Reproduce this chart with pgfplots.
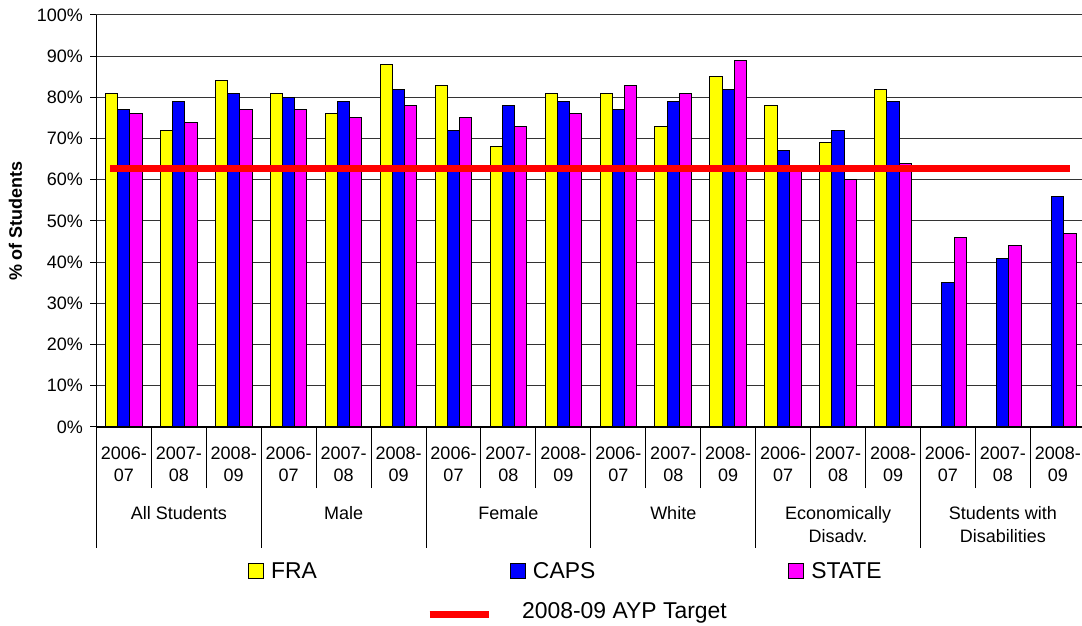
\documentclass[border=0pt]{standalone}
\usepackage{pgfplots}
\pgfplotsset{compat=1.18}
\usepackage{fontspec}
\setmainfont{Liberation Sans}
\definecolor{fra}{RGB}{255,255,0}
\definecolor{caps}{RGB}{0,0,255}
\definecolor{stat}{RGB}{255,0,255}
\begin{document}
\begin{tikzpicture}[x=1pt,y=1pt]
\path[use as bounding box] (0,0) rectangle (1082,626);
\begin{axis}[
  at={(96.4pt,199pt)}, anchor=south west,
  scale only axis, width=985.6pt, height=412pt,
  xmin=-0.5, xmax=17.44, ymin=0, ymax=100,
  clip=false,
  axis lines*=left,
  axis line style={black, line width=1.1pt},
  tick align=outside,
  major tick length=6pt,
  minor tick length=61pt,
  tick style={black, line width=1pt},
  ytick={0,10,20,30,40,50,60,70,80,90,100},
  yticklabels={0\%,10\%,20\%,30\%,40\%,50\%,60\%,70\%,80\%,90\%,100\%},
  yticklabel style={font=\fontsize{18}{22}\selectfont, xshift=-4pt},
  ymajorgrids, grid style={black!80, line width=1pt},
  xtick={0,...,17},
  minor xtick={0.5,1.5,...,16.5},
  major x tick style={/pgfplots/major tick length=0pt},
  xticklabels={
    {2006-\\07},{2007-\\08\\[15.7pt]All Students},{2008-\\09},
    {2006-\\07},{2007-\\08\\[15.7pt]Male},{2008-\\09},
    {2006-\\07},{2007-\\08\\[15.7pt]Female},{2008-\\09},
    {2006-\\07},{2007-\\08\\[15.7pt]White},{2008-\\09},
    {2006-\\07},{2007-\\08\\[15.7pt]Economically\\Disadv.},{2008-\\09},
    {2006-\\07},{2007-\\08\\[15.7pt]Students with\\Disabilities},{2008-\\09}},
  xticklabel style={align=center, anchor=north, inner sep=0pt, yshift=-13.8pt, font=\fontsize{18}{22.3}\selectfont},
  ylabel={\% of Students},
  ylabel style={at={(axis description cs:-0.0821,0.5)}, anchor=center, font=\fontsize{18}{22}\selectfont\bfseries},
  legend columns=3,
  legend style={at={(0.1538,-0.3228)}, anchor=north west, draw=none, fill=none, inner sep=0pt,
    font=\fontsize{22.9}{27}\selectfont,
    /tikz/every even column/.append style={column sep=191pt}},
  legend image code/.code={\draw[#1, line width=1pt] (0pt,-7.5pt) rectangle (15pt,7.5pt); \path (20pt,0pt);},
]
\addplot[ybar, bar width=12.2pt, bar shift=-12.2pt, fill=fra, draw=black, line width=1pt] coordinates {
 (0,81) (1,72) (2,84) (3,81) (4,76) (5,88) (6,83) (7,68) (8,81)
 (9,81) (10,73) (11,85) (12,78) (13,69) (14,82)};
\addlegendentry{FRA}
\addplot[ybar, bar width=12.2pt, bar shift=0pt, fill=caps, draw=black, line width=1pt] coordinates {
 (0,77) (1,79) (2,81) (3,80) (4,79) (5,82) (6,72) (7,78) (8,79)
 (9,77) (10,79) (11,82) (12,67) (13,72) (14,79) (15,35) (16,41) (17,56)};
\addlegendentry{CAPS}
\addplot[ybar, bar width=12.2pt, bar shift=12.2pt, fill=stat, draw=black, line width=1pt] coordinates {
 (0,76) (1,74) (2,77) (3,77) (4,75) (5,78) (6,75) (7,73) (8,76)
 (9,83) (10,81) (11,89) (12,62) (13,60) (14,64) (15,46) (16,44) (17,47)};
\addlegendentry{STATE}
\addplot[red, line width=7pt, forget plot] coordinates {(-0.25,62.7) (17.22,62.7)};
\pgfplotsinvokeforeach{-0.5,2.5,5.5,8.5,11.5,14.5}{
  \draw[black, line width=1pt] (axis cs:#1,0) -- ++(0pt,-121pt);
}
\end{axis}
\begin{axis}[
  at={(96.4pt,199pt)}, anchor=south west,
  scale only axis, width=985.6pt, height=412pt,
  hide axis, xmin=0, xmax=1, ymin=0, ymax=1,
  legend style={at={(0.3344,-0.42)}, anchor=north west, draw=none, fill=none, inner sep=0pt,
    font=\fontsize{22.9}{27}\selectfont},
  legend image code/.code={\draw[#1] (0pt,-4pt) -- (59pt,-4pt); \path (87pt,0pt);},
]
\addlegendimage{red, line width=7pt}
\addlegendentry{2008-09 AYP Target}
\end{axis}
\end{tikzpicture}
\end{document}
